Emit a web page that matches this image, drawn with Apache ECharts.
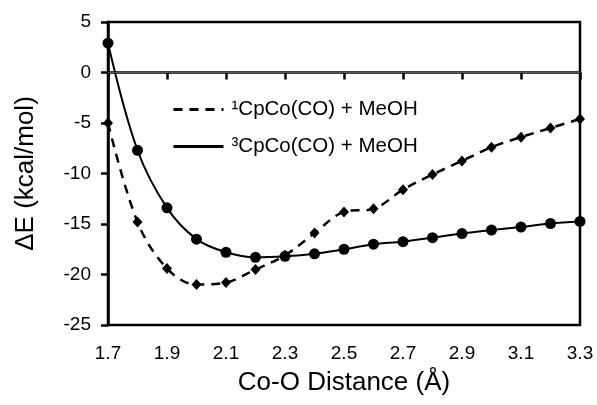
<!DOCTYPE html>
<html lang="en">
<head>
    <meta charset="UTF-8">
    <title>CpCo(CO) + MeOH</title>
    <style>
        html, body { margin: 0; padding: 0; background: #fff; }
    </style>
</head>
<body>
    <div id="chart-box" style="height:405px;width:597px"></div>
<script src="https://cdn.jsdelivr.net/npm/echarts@6/dist/echarts.min.js"></script>
<script>
// Co-O distance (Å)
var distance = [1.7, 1.8, 1.9, 2.0, 2.1, 2.2, 2.3, 2.4, 2.5, 2.6, 2.7, 2.8, 2.9, 3.0, 3.1, 3.2, 3.3];
// singlet, dashed line with diamonds
var singlet = [-5.0, -14.8, -19.4, -21.0, -20.8, -19.5, -18.1, -15.9, -13.8, -13.5, -11.6, -10.1, -8.75, -7.4, -6.4, -5.5, -4.6];
// triplet, solid line with dots
var triplet = [2.9, -7.7, -13.4, -16.5, -17.8, -18.3, -18.2, -17.95, -17.5, -17.0, -16.75, -16.35, -15.95, -15.6, -15.3, -14.95, -14.75];

var xTicks = [1.7, 1.9, 2.1, 2.3, 2.5, 2.7, 2.9, 3.1, 3.3];
var singletName = '\u00b9CpCo(CO) + MeOH';
var tripletName = '\u00b3CpCo(CO) + MeOH';

function pairs(ys) {
    return distance.map(function (x, i) { return [x, ys[i]]; });
}

var font = '"Liberation Sans", Arial, Helvetica, sans-serif';

var option = {
    animation: false,
    textStyle: { fontFamily: font, color: '#000' },
    grid: {
        left: 108, right: 17, top: 22, bottom: 80,
        show: true,
        borderColor: '#000',
        borderWidth: 2.5
    },
    legend: {
        orient: 'vertical',
        left: 167,
        top: 94,
        itemWidth: 50,
        itemHeight: 20,
        itemGap: 16,
        data: [singletName, tripletName],
        itemStyle: { opacity: 0 },
        lineStyle: { width: 3 },
        textStyle: { fontFamily: font, fontSize: 20.5, color: '#000', padding: [0, 0, 0, 3] }
    },
    xAxis: {
        type: 'value',
        min: 1.7,
        max: 3.3,
        name: 'Co-O Distance (\u00c5)',
        nameLocation: 'middle',
        nameGap: 45,
        nameTextStyle: { fontFamily: font, fontSize: 26, color: '#000' },
        axisLine: { lineStyle: { color: '#000', width: 2.5 } },
        axisTick: { show: true, length: 7, customValues: xTicks, lineStyle: { color: '#000', width: 2.5 } },
        axisLabel: { customValues: xTicks, fontSize: 19, color: '#000', margin: 19, fontFamily: font },
        splitLine: { show: false }
    },
    yAxis: {
        type: 'value',
        min: -25,
        max: 5,
        interval: 5,
        name: '\u0394E (kcal/mol)',
        nameLocation: 'middle',
        nameGap: 69,
        nameTextStyle: { fontFamily: font, fontSize: 26, color: '#000' },
        axisLine: { lineStyle: { color: '#000', width: 2.5 } },
        axisTick: { show: true, length: 7, lineStyle: { color: '#000', width: 2.5 } },
        axisLabel: { fontSize: 19, color: '#000', margin: 17, fontFamily: font },
        splitLine: { show: false }
    },
    series: [
        {
            name: singletName,
            type: 'line',
            data: pairs(singlet),
            smooth: 0.35,
            symbol: 'none',
            lineStyle: { color: '#000', width: 2.5, type: [9, 7] },
            itemStyle: { color: '#000' },
            markLine: {
                silent: true,
                symbol: ['none', 'none'],
                label: { show: false },
                lineStyle: { color: '#555', width: 1, type: 'solid' },
                data: [{ yAxis: 0 }]
            }
        },
        {
            name: tripletName,
            type: 'line',
            data: pairs(triplet),
            smooth: 0.35,
            symbol: 'none',
            lineStyle: { color: '#000', width: 2, type: 'solid' },
            itemStyle: { color: '#000' }
        },
        {
            name: 'singlet points',
            type: 'scatter',
            data: pairs(singlet),
            symbol: 'diamond',
            symbolSize: [10, 11],
            itemStyle: { color: '#000', opacity: 1 },
            z: 3
        },
        {
            name: 'triplet points',
            type: 'scatter',
            data: pairs(triplet),
            symbol: 'circle',
            symbolSize: 11,
            itemStyle: { color: '#000', opacity: 1 },
            z: 3
        }
    ]
};

var yxChart = echarts.init(document.getElementById('chart-box'));
yxChart.setOption(option);
</script>
</body>
</html>
